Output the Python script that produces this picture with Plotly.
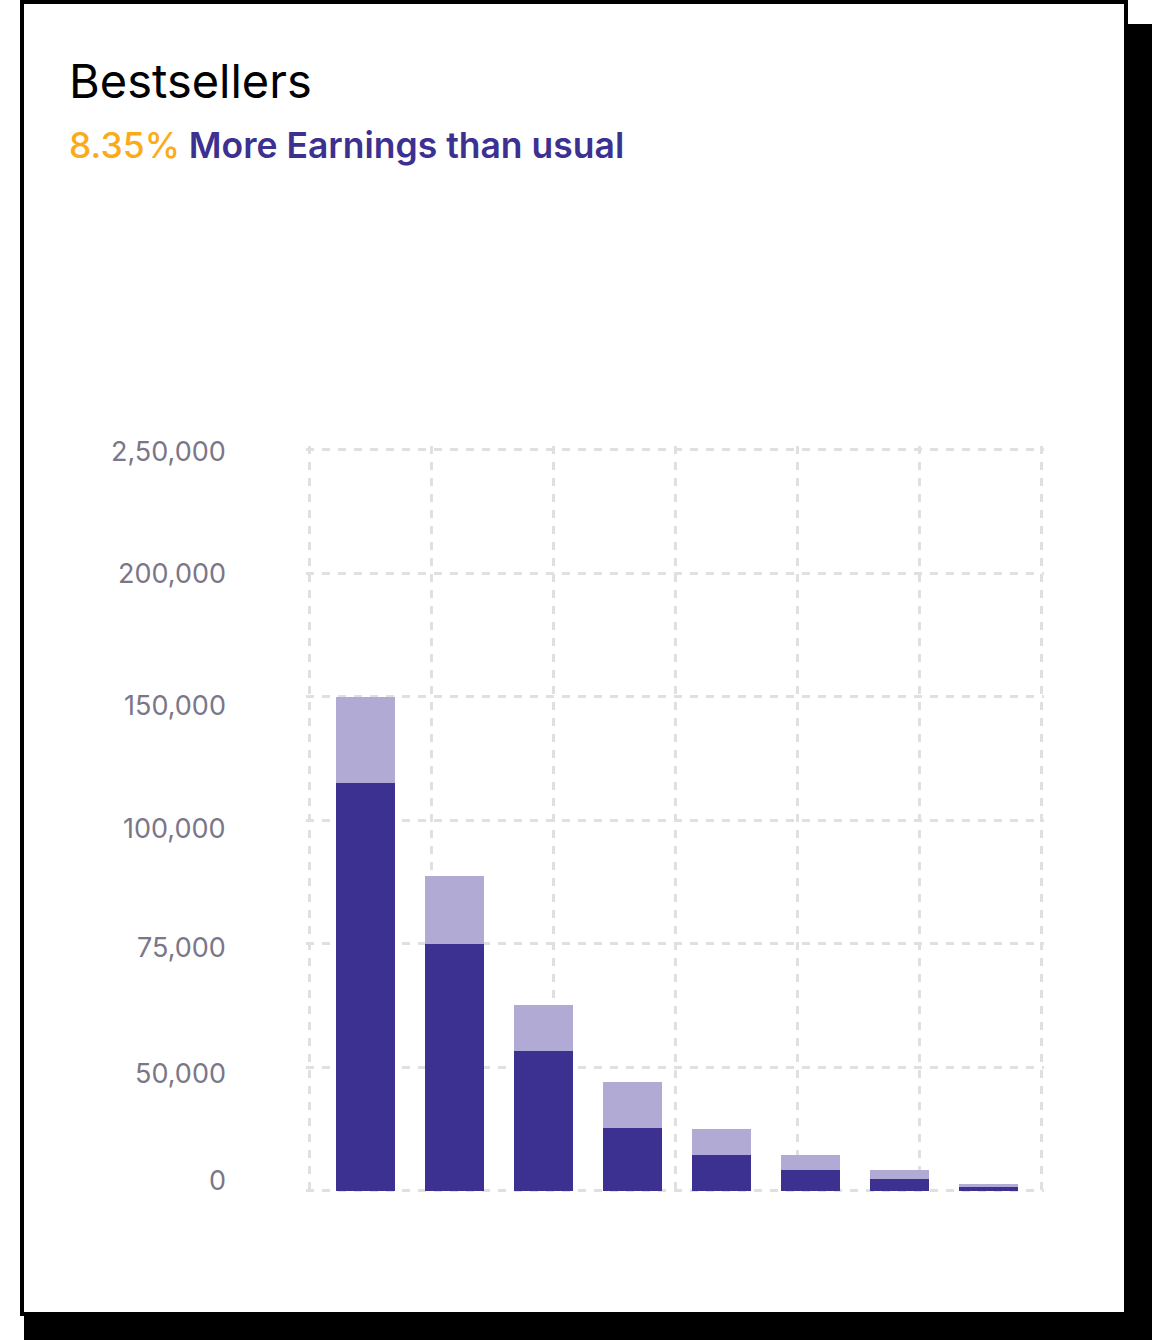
import numpy as np
import plotly.graph_objects as go

# ---------------- data ----------------
products = ["Product 1", "Product 2", "Product 3", "Product 4",
            "Product 5", "Product 6", "Product 7", "Product 8"]
regular_earnings = [115000, 75000, 53300, 25200, 14400, 8300, 4700, 1400]
extra_earnings = [35000, 13700, 9200, 18600, 10600, 6100, 3600, 1400]

tick_values = [0, 50000, 75000, 100000, 150000, 200000, 250000]
tick_labels = ["0", "50,000", "75,000", "100,000", "150,000", "200,000", "2,50,000"]

title_text = "Bestsellers"
growth_text = "8.35%"
subtitle_text = "More Earnings than usual"

# ------------- styling -------------
DARK = "#3c3190"
LIGHT = "#b0aad4"
ORANGE = "#fbab1a"
GRID = "#e0e0e0"
TICK_COLOR = "#7b7689"
FONT = "Inter"

W, H = 1152, 1340
# plot area in pixels
PL, PR, PT, PB = 306, 1044, 446, 1194
LABEL_RIGHT_PX = 228
LABEL_YSHIFT = [10, -6, -4, -8, -9, 0, -2]  # per-label fine offsets (px)

# axis scale: the y axis is segmented (evenly spaced ticks with uneven values)
tick_index = list(range(len(tick_values)))
def y_scale(v):
    return np.interp(v, tick_values, tick_index)

totals = [r + e for r, e in zip(regular_earnings, extra_earnings)]
x_pos = np.arange(len(products))

# x axis range so bars sit where they do in the card
bar_step_px = 89.0
first_center_px = 365.5
x_range = [(PL - first_center_px) / bar_step_px, (PR - first_center_px) / bar_step_px]
grid_px = [309 + 122 * k for k in range(7)]
x_grid = [(p - first_center_px) / bar_step_px for p in grid_px]

y_px_per = 123.5
y_zero_px = 1190.5
y_range = [(y_zero_px - PB) / y_px_per, (y_zero_px - PT) / y_px_per]

fig = go.Figure()
fig.add_trace(go.Bar(
    x=x_pos, y=y_scale(totals), marker=dict(color=LIGHT, line=dict(width=0)),
    width=0.663, name="Extra", customdata=totals, hovertext=products,
    hovertemplate="%{hovertext}: %{customdata:,}<extra></extra>",
))
fig.add_trace(go.Bar(
    x=x_pos, y=y_scale(regular_earnings), marker=dict(color=DARK, line=dict(width=0)),
    width=0.663, name="Regular", customdata=regular_earnings, hovertext=products,
    hovertemplate="%{hovertext}: %{customdata:,}<extra></extra>",
))

def px2paper_x(p):
    return (p - PL) / (PR - PL)

def px2paper_y(p):
    return (PB - p) / (PB - PT)

shapes = [
    # drop shadow
    dict(type="rect", xref="paper", yref="paper", layer="below",
         x0=px2paper_x(24), x1=px2paper_x(1160), y0=px2paper_y(24), y1=px2paper_y(1350),
         fillcolor="black", line=dict(width=0)),
    # card
    dict(type="rect", xref="paper", yref="paper", layer="below",
         x0=px2paper_x(22), x1=px2paper_x(1126), y0=px2paper_y(2), y1=px2paper_y(1314),
         fillcolor="white", line=dict(color="black", width=4)),
]

annotations = [
    dict(text=title_text, xref="paper", yref="paper",
         x=px2paper_x(67), y=px2paper_y(81), xanchor="left", yanchor="middle",
         showarrow=False, font=dict(family=FONT, size=47, color="black", weight=400)),
    dict(text=f"<span style='color:{ORANGE};font-weight:500'>{growth_text}</span> {subtitle_text}",
         xref="paper", yref="paper",
         x=px2paper_x(67), y=px2paper_y(145), xanchor="left", yanchor="middle",
         showarrow=False, font=dict(family=FONT, size=35.5, color=DARK, weight=600)),
]
# y-axis labels (as text anchored to the axis' tick positions)
for idx, lab, shift in zip(tick_index, tick_labels, LABEL_YSHIFT):
    annotations.append(dict(
        text=lab, xref="paper", yref="y", x=px2paper_x(LABEL_RIGHT_PX), y=idx,
        xanchor="right", yanchor="middle", yshift=shift, showarrow=False,
        font=dict(family=FONT, size=27, color=TICK_COLOR),
    ))

fig.update_layout(
    width=W, height=H,
    margin=dict(l=PL, r=W - PR, t=PT, b=H - PB, pad=0),
    paper_bgcolor="white", plot_bgcolor="rgba(0,0,0,0)",
    barmode="overlay", bargap=0, showlegend=False,
    shapes=shapes, annotations=annotations,
    font=dict(family=FONT),
    xaxis=dict(range=x_range, tickmode="array", tickvals=x_grid, showticklabels=False,
               showgrid=True, gridcolor=GRID, gridwidth=3, griddash="8px,8px",
               zeroline=False, showline=False, ticks=""),
    yaxis=dict(range=y_range, tickmode="array", tickvals=tick_index, ticktext=tick_labels,
               showticklabels=False,
               showgrid=True, gridcolor=GRID, gridwidth=3, griddash="8px,8px",
               zeroline=False, showline=False, ticks=""),
)

fig.write_html(
    "out.html",
    config={"displayModeBar": False},
    post_script="document.body.style.margin='0';document.body.style.padding='0';"
                "document.body.style.overflow='hidden';",
)
